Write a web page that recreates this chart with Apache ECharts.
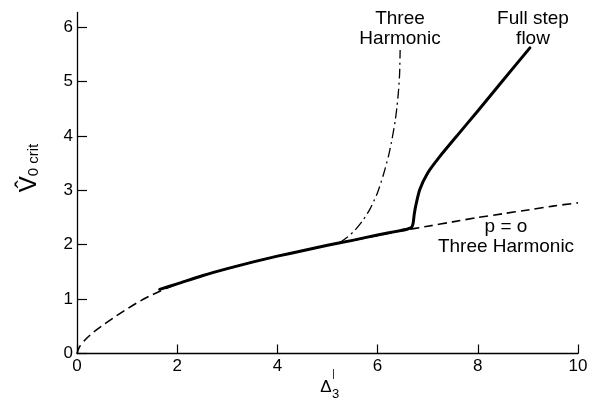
<!DOCTYPE html>
<html>
<head>
<meta charset="utf-8">
<script src="https://cdn.jsdelivr.net/npm/echarts@6/dist/echarts.min.js"></script>
<style>
html,body{margin:0;padding:0;background:#fff;}
#chart{width:601px;height:411px;}
</style>
</head>
<body>
<div id="chart"></div>
<script>
// p = o Three Harmonic (dashed)
const baseX = [0, 0.05, 0.15, 0.3, 0.5, 0.75, 1, 1.25, 1.5, 2, 2.5, 3, 3.5, 4, 4.5, 5, 5.5, 6, 6.5, 7, 7.5, 8, 8.5, 9, 9.5, 10];
const baseY = [0, 0.12, 0.24, 0.37, 0.51, 0.67, 0.82, 0.96, 1.08, 1.28, 1.43, 1.56, 1.68, 1.79, 1.89, 1.99, 2.08, 2.17, 2.26, 2.34, 2.42, 2.5, 2.57, 2.64, 2.71, 2.77];
// Three Harmonic (dash-dot)
const harmX = [5.25, 5.4, 5.55, 5.7, 5.85, 6.0, 6.12, 6.22, 6.29, 6.35, 6.39, 6.42, 6.44, 6.45];
const harmY = [2.04, 2.14, 2.27, 2.44, 2.66, 2.96, 3.3, 3.64, 3.95, 4.27, 4.56, 4.86, 5.16, 5.58];
// Full step flow (solid)
const fullX = [1.65, 2, 2.5, 3, 3.5, 4, 4.5, 5, 5.5, 6, 6.4, 6.6, 6.68, 6.71, 6.73, 6.76, 6.84, 7.0, 7.24, 7.6, 8.0, 8.5, 9.04];
const fullY = [1.18, 1.28, 1.43, 1.56, 1.68, 1.79, 1.89, 1.99, 2.08, 2.18, 2.25, 2.29, 2.32, 2.4, 2.55, 2.71, 3.01, 3.32, 3.62, 4.02, 4.46, 5.02, 5.62];

const xTicks = [0, 2, 4, 6, 8, 10];
const yTicks = [0, 1, 2, 3, 4, 5, 6];

const zip = (xs, ys) => xs.map((x, i) => [x, ys[i]]);
const FONT = '"Liberation Sans", Arial, Helvetica, sans-serif';

const chart = echarts.init(document.getElementById('chart'), null, {renderer: 'canvas'});
chart.setOption({
  animation: false,
  backgroundColor: '#fff',
  grid: {left: 77, right: 23, top: 12.5, bottom: 57.5, containLabel: false},
  xAxis: {
    type: 'value', min: 0, max: 10, interval: 2,
    axisLine: {show: true, lineStyle: {color: '#000', width: 1.3}},
    axisTick: {show: true, inside: true, length: 9, lineStyle: {color: '#000', width: 1.2}, customValues: xTicks},
    axisLabel: {color: '#000', fontSize: 17, fontFamily: FONT, margin: 4, customValues: xTicks},
    splitLine: {show: false}
  },
  yAxis: {
    type: 'value', min: 0, max: 6.27,
    axisLine: {show: true, lineStyle: {color: '#000', width: 1.3}},
    axisTick: {show: true, inside: true, length: 10, lineStyle: {color: '#000', width: 1.2}, customValues: yTicks},
    axisLabel: {color: '#000', fontSize: 17, fontFamily: FONT, margin: 4, customValues: yTicks},
    splitLine: {show: false}
  },
  series: [
    {type: 'line', data: zip(baseX, baseY), showSymbol: false, smooth: 0.3,
     lineStyle: {color: '#000', width: 1.6, type: [9, 5]}, z: 2},
    {type: 'line', data: zip(harmX, harmY), showSymbol: false, smooth: 0.2,
     lineStyle: {color: '#000', width: 1.3, type: [10, 4, 2, 4]}, z: 3},
    {type: 'line', data: zip(fullX, fullY), showSymbol: false, smooth: 0.2,
     lineStyle: {color: '#000', width: 3, cap: 'round', join: 'round'}, z: 4}
  ],
  graphic: [
    {type: 'text', x: 400, y: 9, style: {text: 'Three\nHarmonic', fill: '#000', font: '19px ' + FONT, align: 'center', verticalAlign: 'top', lineHeight: 20}},
    {type: 'text', x: 533, y: 9, style: {text: 'Full step\nflow', fill: '#000', font: '19px ' + FONT, align: 'center', verticalAlign: 'top', lineHeight: 20}},
    {type: 'text', x: 506, y: 217, style: {text: 'p = o\nThree Harmonic', fill: '#000', font: '19px ' + FONT, align: 'center', verticalAlign: 'top', lineHeight: 20}},
    {type: 'text', x: 28, y: 168, rotation: Math.PI / 2,
     style: {text: '{v|V\u0302}{s|0 crit}', align: 'center', verticalAlign: 'middle',
       rich: {v: {fontSize: 24, fontFamily: FONT, fill: '#000', verticalAlign: 'bottom', lineHeight: 27},
              s: {fontSize: 15, fontFamily: FONT, fill: '#000', verticalAlign: 'bottom', lineHeight: 22}}}},
    {type: 'text', x: 326, y: 387, style: {text: '\u0394', fill: '#000', font: '17px ' + FONT, align: 'center', verticalAlign: 'middle'}},
    {type: 'text', x: 332, y: 394, style: {text: '3', fill: '#000', font: '13px ' + FONT, align: 'left', verticalAlign: 'middle'}},
    {type: 'text', x: 333.5, y: 374, style: {text: '|', fill: '#000', font: '10px ' + FONT, align: 'center', verticalAlign: 'middle'}}
  ]
});
</script>
</body>
</html>
